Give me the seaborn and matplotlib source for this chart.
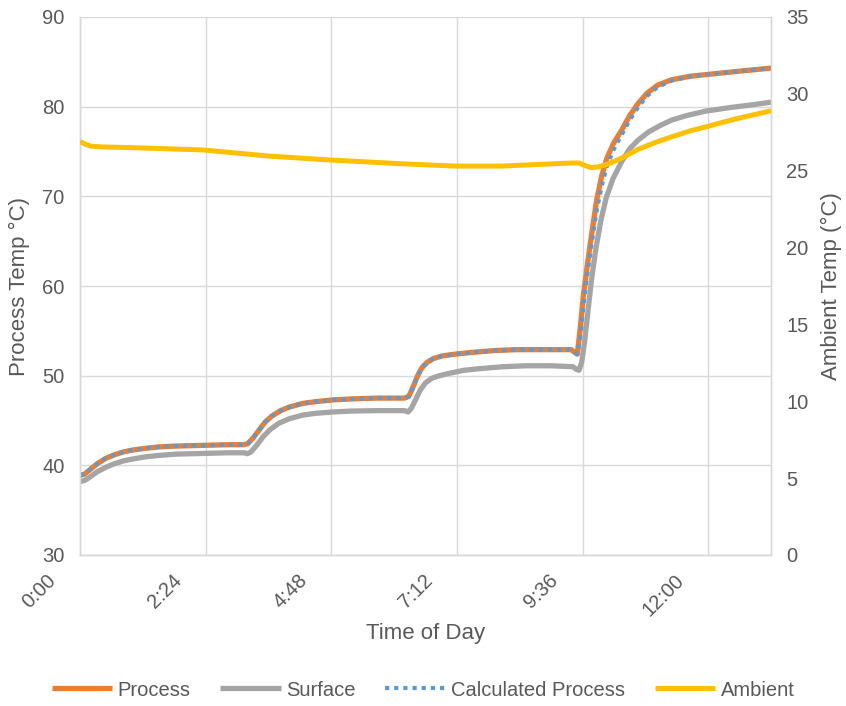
import matplotlib
matplotlib.use("Agg")
import matplotlib.pyplot as plt
import matplotlib.transforms as mtransforms
import seaborn as sns
import pandas as pd

# Time of day (minutes since midnight) for the process readings
proc_time = [0, 5, 10, 20, 30, 40, 50, 60, 75, 90,
             110, 130, 150, 170, 188, 192, 198, 205, 212, 220,
             230, 240, 255, 270, 290, 310, 340, 372, 377, 382,
             387, 392, 398, 405, 415, 430, 450, 475, 500, 530,
             563, 567, 570, 573, 577, 581, 586, 592, 598, 604,
             612, 621, 630, 640, 650, 662, 678, 700, 720, 750,
             792]

# Process temperature (°C)
process = [38.9, 39.0, 39.4, 40.2, 40.8, 41.2, 41.5, 41.7, 41.9, 42.05,
           42.15, 42.2, 42.25, 42.3, 42.3, 42.4, 43.0, 43.9, 44.8, 45.5,
           46.1, 46.5, 46.9, 47.1, 47.3, 47.4, 47.5, 47.5, 47.7, 48.8,
           50.0, 50.9, 51.5, 51.9, 52.2, 52.4, 52.6, 52.8, 52.9, 52.9,
           52.9, 52.6, 52.4, 55.0, 59.0, 62.0, 65.5, 69.5, 72.3, 74.3,
           76.0, 77.4, 79.0, 80.4, 81.5, 82.4, 83.0, 83.4, 83.6, 83.9,
           84.3]

# Calculated process temperature (°C), same timestamps
calculated = [38.9, 39.0, 39.4, 40.2, 40.8, 41.2, 41.5, 41.7, 41.9, 42.05,
              42.15, 42.2, 42.25, 42.3, 42.3, 42.4, 43.0, 43.9, 44.8, 45.5,
              46.1, 46.5, 46.9, 47.1, 47.3, 47.4, 47.5, 47.5, 47.7, 48.8,
              50.0, 50.9, 51.5, 51.9, 52.2, 52.4, 52.6, 52.8, 52.9, 52.9,
              52.9, 52.6, 52.4, 54.0, 57.8, 61.0, 64.5, 68.3, 71.2, 73.4,
              75.3, 76.9, 78.5, 80.0, 81.2, 82.2, 82.9, 83.4, 83.6, 83.9,
              84.3]

# Time of day (minutes) for the surface readings
surf_time = [0, 5, 10, 20, 30, 40, 50, 60, 75, 90,
             110, 130, 150, 170, 188, 192, 196, 203, 210, 218,
             228, 240, 255, 270, 290, 310, 340, 372, 376, 380,
             385, 390, 396, 403, 412, 425, 440, 460, 485, 510,
             540, 565, 569, 572, 575, 578, 582, 586, 591, 597,
             603, 611, 621, 630, 640, 652, 665, 678, 695, 717,
             745, 770, 792]

# Surface temperature (°C)
surface = [38.2, 38.3, 38.6, 39.3, 39.8, 40.2, 40.5, 40.7, 40.95, 41.1,
           41.25, 41.3, 41.35, 41.4, 41.4, 41.3, 41.5, 42.3, 43.2, 44.0,
           44.7, 45.2, 45.6, 45.8, 45.95, 46.05, 46.1, 46.1, 45.95, 46.4,
           47.4, 48.4, 49.2, 49.7, 50.0, 50.3, 50.6, 50.8, 51.0, 51.1,
           51.1, 51.0, 50.7, 50.6, 51.5, 53.5, 57.0, 60.5, 64.0, 67.3,
           69.8, 72.0, 73.9, 75.3, 76.3, 77.2, 77.9, 78.5, 79.0, 79.5,
           79.9, 80.2, 80.5]

# Ambient temperature (°C), right axis
amb_time = [0, 5, 12, 25, 60, 141, 217, 286, 369, 431, 483, 522, 563,
            572, 578, 586, 594, 606, 620, 640, 660, 678, 700, 717, 750, 792]
ambient = [26.9, 26.75, 26.6, 26.55, 26.5, 26.35, 25.95, 25.7, 25.45, 25.3,
           25.3, 25.4, 25.5, 25.5, 25.35, 25.2, 25.25, 25.45, 25.8, 26.4,
           26.85, 27.2, 27.6, 27.85, 28.35, 28.9]

x_ticks = [0, 144, 288, 432, 576, 720]
x_tick_labels = ["0:00", "2:24", "4:48", "7:12", "9:36", "12:00"]

df_proc = pd.DataFrame({"t": proc_time, "Process": process,
                        "Calculated Process": calculated})
df_surf = pd.DataFrame({"t": surf_time, "Surface": surface})
df_amb = pd.DataFrame({"t": amb_time, "Ambient": ambient})

sns.set_theme(style="white")
plt.rcParams["font.family"] = ["Liberation Sans", "DejaVu Sans"]

text_col = "#595959"
grid_col = "#D9D9D9"
line_kw = dict(solid_joinstyle="round", solid_capstyle="butt")

fig = plt.figure(figsize=(8.46, 7.06), dpi=100)
ax = fig.add_axes([80 / 846, 151 / 706, 691 / 846, 538 / 706])

sns.lineplot(data=df_proc, x="t", y="Process", ax=ax, color="#ED7D31",
             lw=3.8, label="Process", zorder=3, **line_kw)
sns.lineplot(data=df_surf, x="t", y="Surface", ax=ax, color="#A5A5A5",
             lw=3.8, label="Surface", zorder=3, **line_kw)
sns.lineplot(data=df_proc, x="t", y="Calculated Process", ax=ax,
             color="#5B9BD5", lw=3.0, linestyle=(0, (1, 1.2)),
             dash_capstyle="butt", dash_joinstyle="round",
             label="Calculated Process", zorder=4)

ax2 = ax.twinx()
sns.lineplot(data=df_amb, x="t", y="Ambient", ax=ax2, color="#FFC000",
             lw=3.6, label="Ambient", zorder=3, **line_kw)

for a in (ax, ax2):
    if a.get_legend() is not None:
        a.get_legend().remove()

ax.set_xlim(0, 792)
ax.set_ylim(30, 90)
ax.set_yticks(range(30, 91, 10))
ax2.set_ylim(0, 35)
ax2.set_yticks(range(0, 36, 5))

ax.grid(True, color=grid_col, lw=1)
ax.set_axisbelow(True)
for a in (ax, ax2):
    for sp in a.spines.values():
        sp.set_color(grid_col)
        sp.set_linewidth(1)
    a.spines["top"].set_visible(False)

ax.tick_params(axis="both", length=0, labelsize=14.5, labelcolor=text_col)
ax.tick_params(axis="y", pad=11)
ax2.tick_params(axis="y", length=0, labelsize=14.5, labelcolor=text_col,
                pad=11)

# Slanted time labels, shifted down-left of their gridlines
ax.set_xticks(x_ticks)
ax.set_xticklabels(x_tick_labels, rotation=45, ha="right", va="top",
                   rotation_mode="anchor")
offset = mtransforms.ScaledTranslation(-34 / 100, -11 / 100,
                                       fig.dpi_scale_trans)
for lbl in ax.get_xticklabels():
    lbl.set_transform(lbl.get_transform() + offset)

ax.set_xlabel("Time of Day", fontsize=16, color=text_col)
ax.xaxis.set_label_coords(0.5, -0.145)
ax.xaxis.label.set_va("center")
ax.set_ylabel("Process Temp °C)", fontsize=16, color=text_col)
ax.yaxis.set_label_coords(-0.087, 0.5)
ax.yaxis.label.set_va("center")
ax2.set_ylabel("Ambient Temp (°C)", fontsize=16, color=text_col)
ax2.yaxis.set_label_coords(1.088, 0.5)
ax2.yaxis.label.set_va("center")

h1, l1 = ax.get_legend_handles_labels()
h2, l2 = ax2.get_legend_handles_labels()
fig.legend(h1 + h2, l1 + l2, loc="center", bbox_to_anchor=(0.5, 16 / 706),
           ncol=4, frameon=False, fontsize=14.5, labelcolor=text_col,
           handlelength=3.0, handletextpad=0.25, columnspacing=1.5)

fig.savefig("out.png", dpi=100)
